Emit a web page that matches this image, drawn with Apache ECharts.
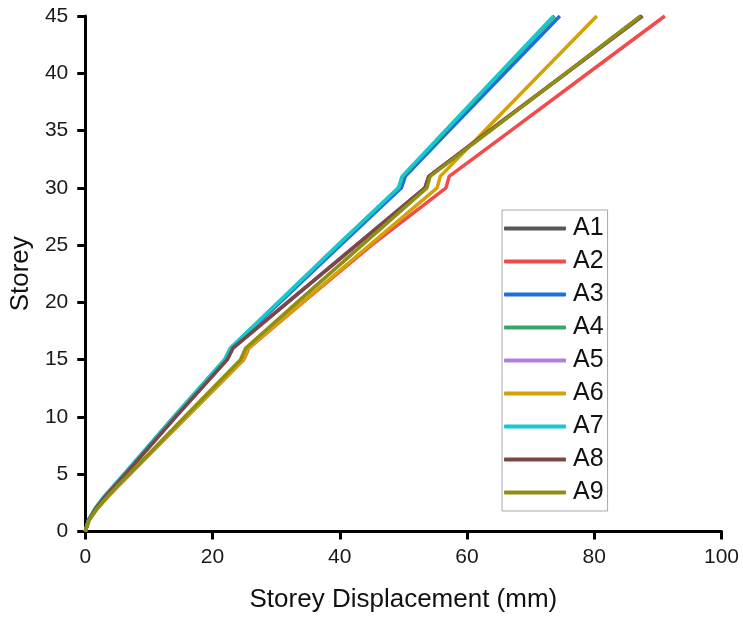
<!DOCTYPE html>
<html>
<head>
<meta charset="utf-8">
<script src="https://cdn.jsdelivr.net/npm/echarts@6/dist/echarts.min.js"></script>
<style>
  html, body { margin: 0; padding: 0; background: #fff; }
  #chart { width: 743px; height: 620px; }
</style>
</head>
<body>
<div id="chart"></div>
<script>
// Storey levels at which displacement was recorded
const storeys = [0, 1, 2, 3, 4, 5, 10, 15, 16, 20, 25, 30, 31, 35, 40, 45];

// Storey displacement (mm) per model, one entry per storey level above
const A1 = [0, 0.55, 1.65, 3.05, 4.65, 6.3, 14.2, 22.3, 23.2, 31.8, 42.6, 53.4, 54.0, 63.6, 75.6, 87.6];
const A2 = [0, 0.6, 1.9, 3.5, 5.2, 7.0, 15.95, 24.9, 25.7, 34.2, 45.0, 56.7, 57.2, 66.9, 79.0, 91.1];
const A3 = [0, 0.5, 1.6, 2.95, 4.55, 6.15, 14.0, 22.0, 22.9, 30.6, 40.1, 49.7, 50.3, 57.2, 65.9, 74.6];
const A4 = [0, 0.5, 1.55, 2.9, 4.5, 6.1, 13.9, 21.9, 22.8, 30.3, 39.7, 49.3, 49.9, 56.7, 65.2, 73.8];
const A5 = [0, 0.55, 1.65, 3.05, 4.65, 6.3, 14.2, 22.3, 23.2, 31.8, 42.6, 53.4, 54.0, 63.5, 75.5, 87.4];
const A6 = [0, 0.6, 1.9, 3.5, 5.2, 7.0, 15.9, 24.8, 25.6, 34.1, 44.7, 55.3, 55.8, 62.8, 71.6, 80.4];
const A7 = [0, 0.5, 1.55, 2.9, 4.5, 6.1, 13.9, 21.9, 22.8, 30.3, 39.7, 49.2, 49.8, 56.6, 65.1, 73.6];
const A8 = [0, 0.55, 1.65, 3.05, 4.65, 6.3, 14.2, 22.3, 23.2, 31.8, 42.6, 53.4, 54.0, 63.5, 75.5, 87.4];
const A9 = [0, 0.6, 1.85, 3.4, 5.1, 6.9, 15.6, 24.4, 25.2, 33.3, 43.5, 53.7, 54.2, 63.7, 75.5, 87.3];

const modelNames = ['A1', 'A2', 'A3', 'A4', 'A5', 'A6', 'A7', 'A8', 'A9'];
const modelValues = [A1, A2, A3, A4, A5, A6, A7, A8, A9];
const modelColors = ['#575757', '#f24b4b', '#1f6fd9', '#38a66c', '#b67de0', '#d4a106', '#17c9cf', '#7a4646', '#8e8e12'];

const xTicks = { min: 0, max: 100, interval: 20 };
const yTicks = { min: 0, max: 45, interval: 5 };

const FONT = "'Liberation Sans', Arial, sans-serif";

const chart = echarts.init(document.getElementById('chart'), null, { renderer: 'canvas' });

const series = modelNames.map((name, k) => ({
  name: name,
  type: 'line',
  symbol: 'none',
  smooth: false,
  data: storeys.map((s, i) => [modelValues[k][i], s]),
  lineStyle: { width: 3.5, color: modelColors[k], join: 'round' },
  itemStyle: { color: modelColors[k] },
  emphasis: { disabled: true }
}));

const axisCommon = {
  axisLine: { show: true, onZero: false, lineStyle: { color: '#000', width: 3 } },
  axisTick: { show: true, inside: false, length: 8, lineStyle: { color: '#000', width: 3 } },
  splitLine: { show: false },
  nameTextStyle: { fontFamily: FONT, fontSize: 26, color: '#111' }
};

chart.setOption({
  animation: false,
  backgroundColor: '#fff',
  grid: { left: 83.5, right: 21.5, top: 16, bottom: 88.5, containLabel: false },
  xAxis: Object.assign({}, axisCommon, {
    type: 'value',
    min: xTicks.min, max: xTicks.max, interval: xTicks.interval,
    name: 'Storey Displacement (mm)',
    nameLocation: 'middle',
    nameGap: 55,
    axisLabel: { fontFamily: FONT, fontSize: 21, color: '#1a1a1a', margin: 15 }
  }),
  yAxis: Object.assign({}, axisCommon, {
    type: 'value',
    min: yTicks.min, max: yTicks.max, interval: yTicks.interval,
    name: 'Storey',
    nameLocation: 'middle',
    nameGap: 46,
    axisLabel: { fontFamily: FONT, fontSize: 21, color: '#1a1a1a', margin: 17 }
  }),
  legend: {
    orient: 'vertical',
    left: 502,
    top: 210,
    padding: [6, 4, 6, 2],
    itemGap: 8,
    itemWidth: 62,
    itemHeight: 4,
    borderColor: '#a8a8a8',
    borderWidth: 1,
    backgroundColor: '#fff',
    icon: 'roundRect',
    textStyle: { fontFamily: FONT, fontSize: 25, lineHeight: 25, color: '#111', padding: [0, 0, 0, 2] },
    data: modelNames.map((n, k) => ({ name: n, itemStyle: { color: modelColors[k] } })),
    itemStyle: { borderWidth: 0 }
  },
  series: series
});
</script>
</body>
</html>
